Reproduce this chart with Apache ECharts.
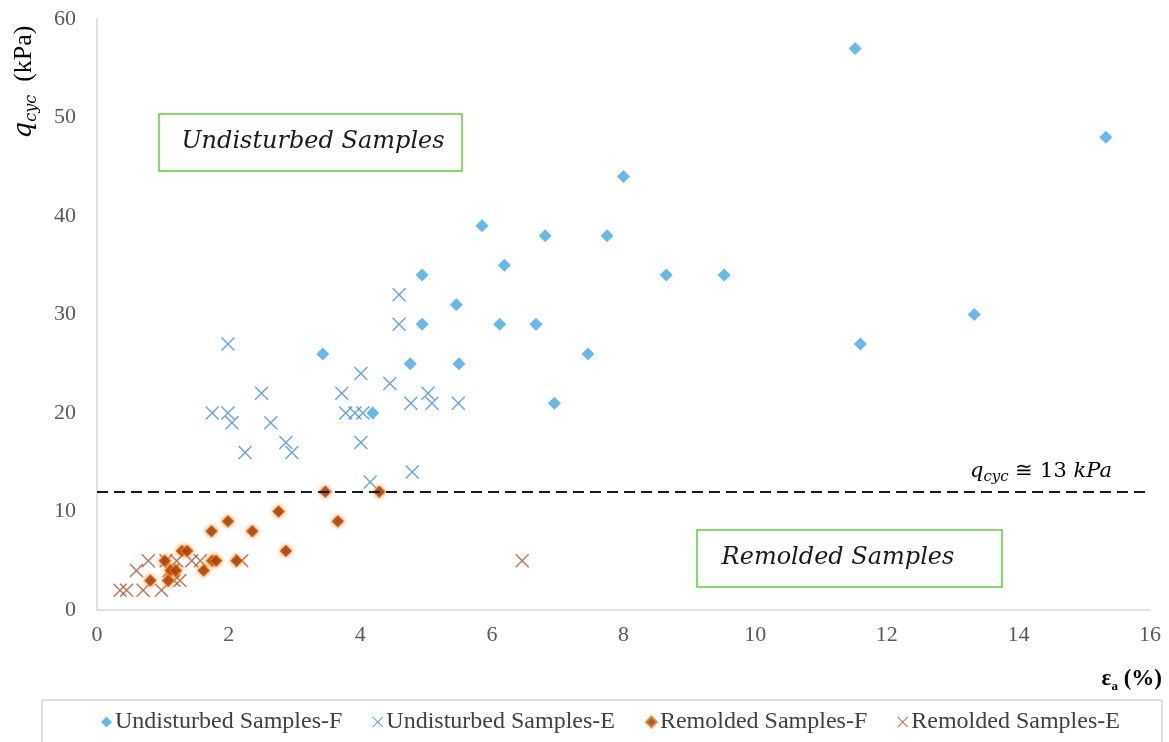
<!DOCTYPE html>
<html>
<head>
<meta charset="utf-8">
<script src="https://cdn.jsdelivr.net/npm/echarts@6/dist/echarts.min.js"></script>
<style>
  html, body { margin: 0; padding: 0; background: #ffffff; }
  #chart { width: 1169px; height: 742px; }
</style>
</head>
<body>
<div id="chart"></div>
<script>
// Axial strain (%) vs cyclic deviator stress (kPa)
const xTicks = { min: 0, max: 16, interval: 2 };
const yTicks = { min: 0, max: 60, interval: 10 };

const seriesNames = [
  'Undisturbed Samples-F',
  'Undisturbed Samples-E',
  'Remolded Samples-F',
  'Remolded Samples-E'
];

const undisturbedF = [
  [11.52, 57], [15.33, 48], [8.0, 44], [5.85, 39], [6.81, 38], [7.75, 38],
  [6.19, 35], [4.94, 34], [8.65, 34], [9.53, 34], [5.46, 31], [13.33, 30],
  [4.94, 29], [6.12, 29], [6.67, 29], [11.6, 27], [3.43, 26], [7.46, 26],
  [4.76, 25], [5.5, 25], [6.95, 21], [4.19, 20]
];

const undisturbedE = [
  [4.59, 32], [4.59, 29], [1.99, 27], [4.01, 24], [4.45, 23], [2.5, 22],
  [3.72, 22], [5.03, 22], [1.75, 20], [1.99, 20], [2.05, 19], [2.64, 19],
  [3.78, 20], [3.92, 20], [4.04, 20], [4.77, 21], [5.09, 21], [5.49, 21],
  [2.87, 17], [2.96, 16], [2.25, 16], [4.01, 17], [4.79, 14], [4.15, 13]
];

const remoldedF = [
  [3.47, 12], [4.29, 12], [2.76, 10], [1.99, 9], [3.66, 9], [1.74, 8],
  [2.36, 8], [2.87, 6], [1.29, 6], [1.37, 6], [1.03, 5], [1.75, 5],
  [1.81, 5], [2.12, 5], [1.62, 4], [1.12, 4], [1.2, 4], [0.81, 3], [1.08, 3]
];

const remoldedE = [
  [0.35, 2], [0.45, 2], [0.7, 2], [0.98, 2], [0.6, 4], [0.78, 5],
  [1.1, 4], [1.17, 3], [1.21, 5], [1.26, 3], [1.05, 5], [1.44, 5],
  [1.57, 5], [2.2, 5], [6.46, 5], [1.15, 4]
];

// threshold separating the two sample groups
const thresholdLine = 12;

// filled "x" outline so it renders the same on plot and legend
const crossPath = 'path://M1,0 L7,6 L13,0 L14,1 L8,7 L14,13 L13,14 L7,8 L1,14 L0,13 L6,7 L0,1 Z';

const colors = {
  uF: '#3fa9e8',
  uE: '#3d8fdf',
  rF: '#9c3200',
  rFGlow: '#f7831f',
  rE: '#b0502c'
};

const serif = 'Liberation Serif';
const mathFont = 'DejaVu Serif';

const chart = echarts.init(document.getElementById('chart'));

chart.setOption({
  backgroundColor: '#ffffff',
  animation: false,
  grid: { left: 97, right: 19, top: 19, bottom: 132, containLabel: false },
  xAxis: {
    type: 'value',
    min: xTicks.min, max: xTicks.max, interval: xTicks.interval,
    axisLine: { show: true, lineStyle: { color: '#d9d9d9', width: 1.5 } },
    axisTick: { show: false },
    splitLine: { show: false },
    axisLabel: { color: '#595959', fontFamily: serif, fontSize: 22, margin: 14 }
  },
  yAxis: {
    type: 'value',
    min: yTicks.min, max: yTicks.max, interval: yTicks.interval,
    axisLine: { show: true, lineStyle: { color: '#d9d9d9', width: 1.5 } },
    axisTick: { show: false },
    splitLine: { show: false },
    axisLabel: { color: '#595959', fontFamily: serif, fontSize: 22, margin: 21 }
  },
  legend: {
    left: 96,
    top: 705,
    itemGap: 30,
    itemWidth: 11,
    itemHeight: 11,
    textStyle: { fontFamily: serif, fontSize: 24, color: '#404040', padding: [0, 0, 0, -2] },
    data: [
      { name: seriesNames[0], icon: 'diamond' },
      { name: seriesNames[1], icon: crossPath },
      { name: seriesNames[2], icon: 'diamond' },
      { name: seriesNames[3], icon: crossPath }
    ]
  },
  series: [
    {
      name: seriesNames[0],
      type: 'scatter',
      data: undisturbedF,
      symbol: 'diamond',
      symbolSize: 13,
      itemStyle: { color: colors.uF },
      z: 3
    },
    {
      name: seriesNames[1],
      type: 'scatter',
      data: undisturbedE,
      symbol: crossPath,
      symbolSize: 14,
      itemStyle: { color: colors.uE },
      z: 2
    },
    {
      name: seriesNames[2],
      type: 'scatter',
      data: remoldedF,
      symbol: 'diamond',
      symbolSize: 12,
      itemStyle: { color: colors.rF, borderColor: colors.rFGlow, borderWidth: 1, shadowBlur: 4, shadowColor: colors.rFGlow },
      z: 3,
      markLine: {
        silent: true,
        symbol: 'none',
        label: { show: false },
        lineStyle: { color: '#1a1a1a', type: [11, 6], width: 2 },
        data: [{ yAxis: thresholdLine }]
      }
    },
    {
      name: seriesNames[3],
      type: 'scatter',
      data: remoldedE,
      symbol: crossPath,
      symbolSize: 14,
      itemStyle: { color: colors.rE },
      z: 2
    }
  ],
  graphic: [
    // y-axis title
    {
      type: 'text',
      x: 24, y: 82,
      rotation: Math.PI / 2,
      style: {
        text: '{q|q}{s|cyc}{n|  (kPa)}',
        align: 'center',
        verticalAlign: 'middle',
        rich: {
          q: { fontFamily: mathFont, fontStyle: 'italic', fontSize: 26, color: '#7f7f7f', lineHeight: 32, verticalAlign: 'middle' },
          s: { fontFamily: mathFont, fontStyle: 'italic', fontSize: 16, color: '#7f7f7f', lineHeight: 16, verticalAlign: 'bottom' },
          n: { fontFamily: serif, fontSize: 26, color: '#7f7f7f', lineHeight: 32, verticalAlign: 'middle' }
        }
      }
    },
    // x-axis title
    {
      type: 'text',
      x: 1162, y: 679,
      style: {
        text: '{e|ε}{s|a}{n| (%)}',
        align: 'right',
        verticalAlign: 'middle',
        rich: {
          e: { fontFamily: serif, fontWeight: 'bold', fontSize: 23, color: '#404040', lineHeight: 28, verticalAlign: 'middle' },
          s: { fontFamily: serif, fontWeight: 'bold', fontSize: 13, color: '#404040', lineHeight: 14, verticalAlign: 'bottom' },
          n: { fontFamily: serif, fontWeight: 'bold', fontSize: 23, color: '#404040', lineHeight: 28, verticalAlign: 'middle' }
        }
      }
    },
    // threshold annotation
    {
      type: 'text',
      x: 970, y: 472,
      style: {
        text: '{q|q}{s|cyc}{n| ≅ 13 }{k|kPa}',
        align: 'left',
        verticalAlign: 'middle',
        rich: {
          q: { fontFamily: mathFont, fontStyle: 'italic', fontSize: 21, color: '#1a1a1a', lineHeight: 26, verticalAlign: 'middle' },
          s: { fontFamily: mathFont, fontStyle: 'italic', fontSize: 15, color: '#1a1a1a', lineHeight: 14, verticalAlign: 'bottom' },
          n: { fontFamily: mathFont, fontSize: 21, color: '#1a1a1a', lineHeight: 26, verticalAlign: 'middle' },
          k: { fontFamily: mathFont, fontStyle: 'italic', fontSize: 21, color: '#1a1a1a', lineHeight: 26, verticalAlign: 'middle' }
        }
      }
    },
    // group labels
    {
      type: 'rect',
      shape: { x: 159, y: 114, width: 303, height: 57 },
      style: { fill: '#ffffff', stroke: '#5fcf35', lineWidth: 1.5 },
      z: 10
    },
    {
      type: 'text',
      x: 313, y: 142,
      z: 11,
      style: {
        text: 'Undisturbed Samples',
        align: 'center', verticalAlign: 'middle',
        fontFamily: mathFont, fontStyle: 'italic', fontSize: 24, fill: '#1a1a1a'
      }
    },
    {
      type: 'rect',
      shape: { x: 697, y: 530, width: 305, height: 57 },
      style: { fill: '#ffffff', stroke: '#5fcf35', lineWidth: 1.5 },
      z: 10
    },
    {
      type: 'text',
      x: 838, y: 558,
      z: 11,
      style: {
        text: 'Remolded Samples',
        align: 'center', verticalAlign: 'middle',
        fontFamily: mathFont, fontStyle: 'italic', fontSize: 24, fill: '#1a1a1a'
      }
    },
    // legend frame
    {
      type: 'rect',
      shape: { x: 42, y: 700, width: 1120, height: 60 },
      style: { fill: 'none', stroke: '#bfbfbf', lineWidth: 1 },
      z: 0
    }
  ]
});
</script>
</body>
</html>
